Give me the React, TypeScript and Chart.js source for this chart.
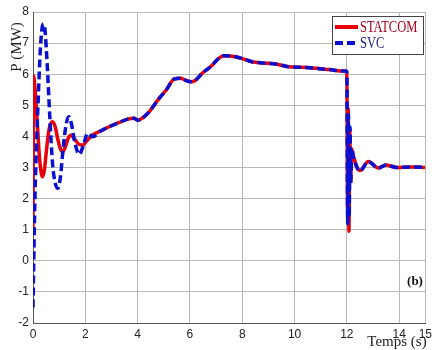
import React, { useEffect, useRef } from "react";
import { Chart, registerables } from "chart.js";

Chart.register(...registerables);

// ---- data ----
const statcomStartT = [0, 0.02, 0.08, 0.16, 0.25, 0.32, 0.37, 0.44, 0.52, 0.62, 0.75, 0.85, 0.95, 1.05, 1.14, 1.25, 1.35, 1.45, 1.6, 1.75, 1.9, 2.05, 2.28];
const statcomStartP = [0.85, 5.95, 5.5, 4.5, 3.3, 2.8, 2.7, 2.95, 3.6, 4.25, 4.47, 4.3, 3.9, 3.6, 3.51, 3.7, 3.95, 4.04, 3.9, 3.75, 3.72, 3.85, 4.05];

const svcStartT = [0, 0.04, 0.08, 0.13, 0.2, 0.28, 0.35, 0.4, 0.46, 0.55, 0.65, 0.75, 0.85, 0.95, 1.05, 1.15, 1.27, 1.37, 1.47, 1.6, 1.77, 1.92, 2.09, 2.28];
const svcStartP = [-1.5, 0.5, 2.2, 3.6, 5.2, 6.8, 7.5, 7.62, 7.4, 6.2, 4.5, 3.1, 2.5, 2.33, 2.7, 3.6, 4.4, 4.63, 4.4, 3.8, 3.42, 3.7, 4.1, 3.99];

const commonT = [2.6, 2.91, 3.3, 3.68, 3.85, 4.02, 4.2, 4.44, 4.82, 5.1, 5.39, 5.64, 5.85, 6.03, 6.2, 6.47, 6.8, 7.1, 7.3, 7.74, 8.0, 8.37, 8.8, 9.26, 9.77, 10.3, 10.79, 11.3, 11.93, 12.0];
const commonP = [4.18, 4.31, 4.45, 4.57, 4.58, 4.52, 4.6, 4.79, 5.22, 5.5, 5.84, 5.87, 5.8, 5.76, 5.8, 6.03, 6.25, 6.51, 6.59, 6.56, 6.5, 6.4, 6.36, 6.33, 6.24, 6.22, 6.19, 6.15, 6.1, 6.08];

const statcomEndT = [12.03, 12.05, 12.08, 12.11, 12.14, 12.18, 12.25, 12.5, 12.82, 13.2, 13.5, 13.9, 14.5, 15];
const statcomEndP = [1.6, 4.9, 0.95, 4.2, 2.6, 3.6, 3.35, 2.9, 3.19, 2.98, 3.08, 3.0, 3.02, 3.0];

const svcEndT = [12.03, 12.06, 12.09, 12.12, 12.15, 12.19, 12.25, 12.5, 12.82, 13.2, 13.5, 13.9, 14.5, 15];
const svcEndP = [1.2, 4.7, 1.4, 4.3, 2.5, 3.6, 3.35, 2.88, 3.19, 2.98, 3.08, 3.0, 3.02, 3.0];

const xTicks = [0, 2, 4, 6, 8, 10, 12, 14, 15];
const yTicks = [-2, -1, 0, 1, 2, 3, 4, 5, 6, 7, 8];

const seriesNames = ["STATCOM", "SVC"];

const toPoints = (t: number[], p: number[]) => t.map((x, i) => ({ x, y: p[i] }));

const RED = "#e8000b";
const BLUE = "#0a0fd0";

const decorations = {
  id: "decorations",
  afterDraw(chart: any) {
    const ctx = chart.ctx as CanvasRenderingContext2D;
    ctx.save();
    // y axis title
    ctx.save();
    ctx.translate(17, 47);
    ctx.rotate(-Math.PI / 2);
    ctx.fillStyle = "#222";
    ctx.font = "15px 'Liberation Serif'";
    ctx.textAlign = "center";
    ctx.textBaseline = "middle";
    ctx.fillText("P (MW)", 0, 0);
    ctx.restore();

    // x axis title
    ctx.fillStyle = "#222";
    ctx.font = "15px 'Liberation Serif'";
    ctx.textAlign = "center";
    ctx.textBaseline = "middle";
    ctx.fillText("Temps (s)", 397, 342);

    // (b)
    ctx.font = "bold 13px 'Liberation Serif'";
    ctx.fillStyle = "#111";
    ctx.fillText("(b)", 415, 282);

    // legend
    const bx = 332, by = 16, bw = 91, bh = 38;
    ctx.fillStyle = "#fff";
    ctx.fillRect(bx, by, bw, bh);
    ctx.strokeStyle = "#444";
    ctx.lineWidth = 1;
    ctx.strokeRect(bx + 0.5, by + 0.5, bw, bh);

    const ds = chart.data.datasets;
    const rows = [27, 43];
    const textColors = ["#a8001c", "#1c1c86"];
    ds.forEach((d: any, i: number) => {
      const y = rows[i];
      ctx.strokeStyle = d.borderColor;
      ctx.lineWidth = 4;
      ctx.setLineDash(d.borderDash || []);
      ctx.beginPath();
      ctx.moveTo(335, y);
      ctx.lineTo(358, y);
      ctx.stroke();
      ctx.setLineDash([]);
      ctx.save();
      ctx.translate(360, y + 1);
      ctx.scale(0.78, 1);
      ctx.fillStyle = textColors[i];
      ctx.font = "16px 'Liberation Serif'";
      ctx.textAlign = "left";
      ctx.textBaseline = "middle";
      ctx.fillText(d.label, 0, 0);
      ctx.restore();
    });
    ctx.restore();
  },
};

const whiteBg = {
  id: "whiteBg",
  beforeDraw(chart: any) {
    const ctx = chart.ctx;
    ctx.save();
    ctx.fillStyle = "#fff";
    ctx.fillRect(0, 0, chart.width, chart.height);
    ctx.restore();
  },
};

export default function App() {
  const ref = useRef<HTMLCanvasElement | null>(null);
  useEffect(() => {
    if (!ref.current) return;
    const chart = new Chart(ref.current, {
      type: "line",
      data: {
        datasets: [
          {
            label: seriesNames[0],
            data: toPoints([...statcomStartT, ...commonT, ...statcomEndT], [...statcomStartP, ...commonP, ...statcomEndP]),
            borderColor: RED,
            borderWidth: 3.5,
            pointRadius: 0,
            cubicInterpolationMode: "monotone",
            fill: false,
            order: 1,
          },
          {
            label: seriesNames[1],
            data: toPoints([...svcStartT, ...commonT, ...svcEndT], [...svcStartP, ...commonP, ...svcEndP]),
            borderColor: BLUE,
            borderWidth: 3.5,
            borderDash: [8, 4],
            pointRadius: 0,
            cubicInterpolationMode: "monotone",
            fill: false,
            order: 0,
          },
        ],
      },
      options: {
        animation: false,
        responsive: false,
        parsing: true,
        layout: { padding: { left: 0, right: 8, top: 12, bottom: 0 } },
        plugins: { legend: { display: false }, tooltip: { enabled: false }, title: { display: false } },
        scales: {
          x: {
            type: "linear",
            min: 0,
            max: 15,
            afterBuildTicks: (s: any) => {
              s.ticks = xTicks.map((v) => ({ value: v }));
            },
            afterFit: (s: any) => {
              s.height = 27;
            },
            grid: { color: "#b8b8b8", lineWidth: 1, drawTicks: false },
            border: { display: true, color: "#555", width: 1 },
            ticks: { color: "#222", font: { family: "'Liberation Sans'", size: 12 }, padding: 4, maxRotation: 0, autoSkip: false },
          },
          y: {
            type: "linear",
            min: -2,
            max: 8,
            afterBuildTicks: (s: any) => {
              s.ticks = yTicks.map((v) => ({ value: v }));
            },
            afterFit: (s: any) => {
              s.width = 33;
            },
            grid: { color: "#b8b8b8", lineWidth: 1, drawTicks: false },
            border: { display: true, color: "#555", width: 1 },
            ticks: { color: "#222", font: { family: "'Liberation Sans'", size: 12 }, padding: 4, autoSkip: false },
          },
        },
      },
      plugins: [whiteBg, decorations],
    } as any);
    return () => chart.destroy();
  }, []);
  return (
    <div style={{ position: "fixed", left: 0, top: 0, width: 436, height: 350 }}>
      <canvas ref={ref} width={436} height={350} style={{ width: 436, height: 350 }} />
    </div>
  );
}
